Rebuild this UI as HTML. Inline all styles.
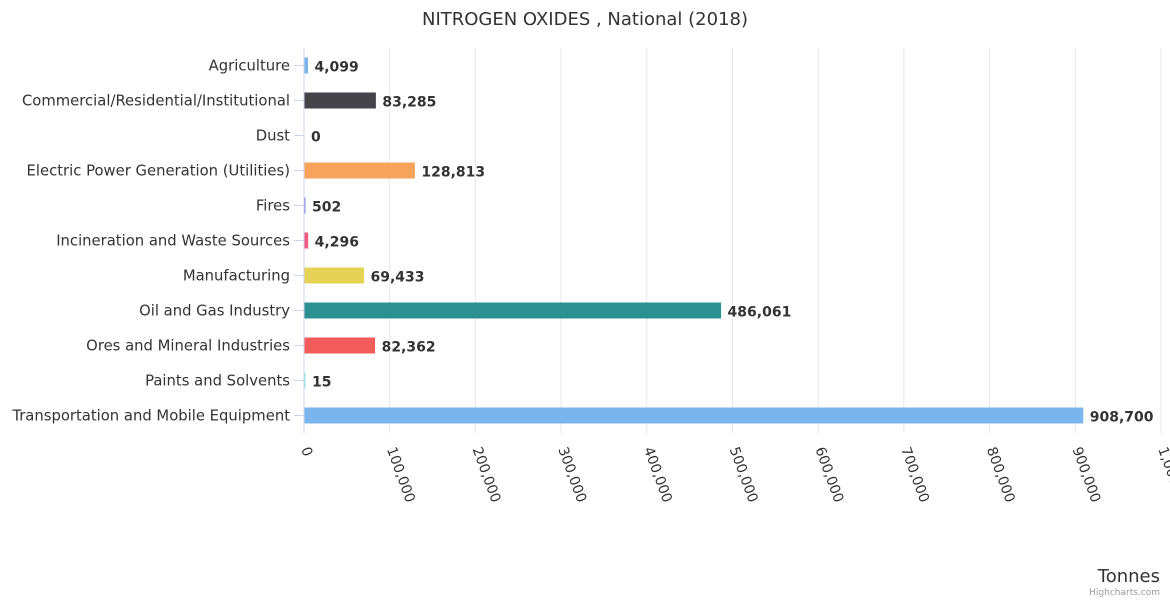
<!DOCTYPE html>
<html><head><meta charset="utf-8"><style>
body{margin:0;background:#fff;font-family:"Liberation Sans","DejaVu Sans",sans-serif}
svg text{font-family:"DejaVu Sans","Liberation Sans",sans-serif}
</style></head><body>
<svg id="c" width="1170" height="600">
<rect width="1170" height="600" fill="#fff"/>
<text x="585" y="25" text-anchor="middle" font-size="18" fill="#333">NITROGEN OXIDES , National (2018)</text>
<g id="grid"></g><g id="bars"></g><g id="ylab"></g><g id="xlab"></g>
<text x="1160" y="582" text-anchor="end" font-size="18" fill="#333">Tonnes</text>
<text x="1160" y="595" text-anchor="end" font-size="9" fill="#999">Highcharts.com</text>
</svg>
<script>
const categories=["Agriculture","Commercial/Residential/Institutional","Dust","Electric Power Generation (Utilities)","Fires","Incineration and Waste Sources","Manufacturing","Oil and Gas Industry","Ores and Mineral Industries","Paints and Solvents","Transportation and Mobile Equipment"];
const values=[4099,83285,0,128813,502,4296,69433,486061,82362,15,908700];
const colors=["#7cb5ec","#434348","#90ed7d","#f7a35c","#8085e9","#f15c80","#e4d354","#2b908f","#f45b5b","#91e8e1","#7cb5ec"];
const ticks=[0,100000,200000,300000,400000,500000,600000,700000,800000,900000,1000000];
const tickLabels=["0","100,000","200,000","300,000","400,000","500,000","600,000","700,000","800,000","900,000","1,000,000"];
const NS="http://www.w3.org/2000/svg";
const x0=304,x1=1161,yTop=48,yBot=433,rowH=(yBot-yTop)/categories.length;
const xs=v=>x0+(v-ticks[0])/(ticks[ticks.length-1]-ticks[0])*(x1-x0);
const yc=i=>yTop+rowH*(i+0.5);
function mk(t,a,p){const e=document.createElementNS(NS,t);for(const k in a)e.setAttribute(k,a[k]);p.appendChild(e);return e;}
const G=document.getElementById('grid'),B=document.getElementById('bars'),YL=document.getElementById('ylab'),XL=document.getElementById('xlab');
ticks.forEach((t,i)=>{
 const l=mk('line',{x1:xs(t),x2:xs(t),y1:yTop,y2:yBot,stroke:i==0?'#ccd6eb':'#e6e6e6'},G);
 
 
 const x=xs(t)-3,y=449;
 const tx=mk('text',{x:x,y:y,'font-size':14,fill:'#333',transform:`rotate(70 ${x} ${y})`},XL);
 tx.textContent=tickLabels[i];
 
 
});
categories.forEach((c,i)=>{
 const y=yc(i);
 const tk=mk('line',{x1:x0-10,x2:x0,y1:y,y2:y,stroke:'#ccd6eb'},G);
 
 
 const t=mk('text',{x:290,y:y+5,'text-anchor':'end','font-size':14.8,fill:'#333'},YL);
 t.textContent=c;
 
 
 const w=Math.max(xs(values[i])-x0,values[i]>0?1:0);
 const r=mk('rect',{x:x0+0.5,y:y-8,width:w,height:16,fill:colors[i]},B);
 
 
 const v=mk('text',{x:x0+w+7,y:y+6,'font-size':14,'font-weight':'bold',fill:'#333',stroke:'#fff','stroke-width':2,'paint-order':'stroke'},B);
 v.textContent=values[i].toLocaleString('en-US');
 
 
});
</script>
</body></html>
